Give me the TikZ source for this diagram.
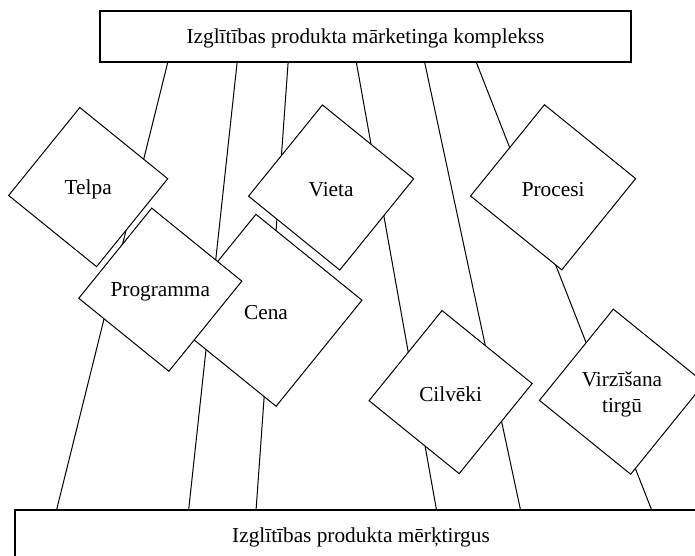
\documentclass[tikz,border=0pt]{standalone}
\usepackage{fontspec}
\setmainfont{Liberation Serif}
\usetikzlibrary{shapes.geometric}
\begin{document}
\begin{tikzpicture}[x=1pt,y=-1pt,
  every node/.style={font=\fontsize{21.3}{26}\selectfont},
  every label/.style={yshift=-2.5pt},
  box/.style={draw, line width=1.2pt, fill=white, inner sep=0pt, text depth=0pt},
  facet/.style={regular polygon, regular polygon sides=4,
    shape border rotate=51, draw, line width=1pt, fill=white,
    inner sep=0pt, minimum size=#1},
  facet/.default=165,
  link/.style={line width=1pt}]
\useasboundingbox (0,0) rectangle (695,556);
\fill[white] (0,0) rectangle (695,556);
\clip (0,0) rectangle (695,556);

% the two framing boxes
\node[box, minimum width=531pt, minimum height=51pt] (mix) at (365.5,36.5)
  {Izglītības produkta mārketinga komplekss};
\node[box, minimum width=692pt, minimum height=50pt] (market) at (361,535)
  {Izglītības produkta mērķtirgus};

% straight links between the boxes, running behind the elements
\draw[link] ([xshift=68.3pt]mix.south west)  -- ([xshift=42.3pt]market.north west);
\draw[link] ([xshift=137.7pt]mix.south west) -- ([xshift=174.3pt]market.north west);
\draw[link] ([xshift=188.7pt]mix.south west) -- ([xshift=241.7pt]market.north west);
\draw[link] ([xshift=257pt]mix.south west)   -- ([xshift=422pt]market.north west);
\draw[link] ([xshift=325.3pt]mix.south west) -- ([xshift=506pt]market.north west);
\draw[link] ([xshift=377pt]mix.south west)   -- ([xshift=637pt]market.north west);

% the seven elements of the mix (tilted squares, level captions)
\node[facet=160, label={center:Telpa}]     (telpa)     at (88.2,187.1)  {};
\node[facet=166, label={center:Vieta}]     (vieta)     at (331.1,187.5) {};
\node[facet=166, label={center:Procesi}]   (procesi)   at (553.1,187.3) {};
\node[facet=193, label={center:Cena}]      (cena)      at (266,310.3)   {};
\node[facet=164, label={center:Programma}] (programma) at (160.3,289.7) {};
\node[facet=164, label={center:Cilvēki}]   (cilveki)   at (450.6,392.1) {};
\node[facet=166, label={[align=center]center:Virzīšana\\tirgū}]
                                           (virzisana) at (622,391.7)   {};
\end{tikzpicture}
\end{document}
